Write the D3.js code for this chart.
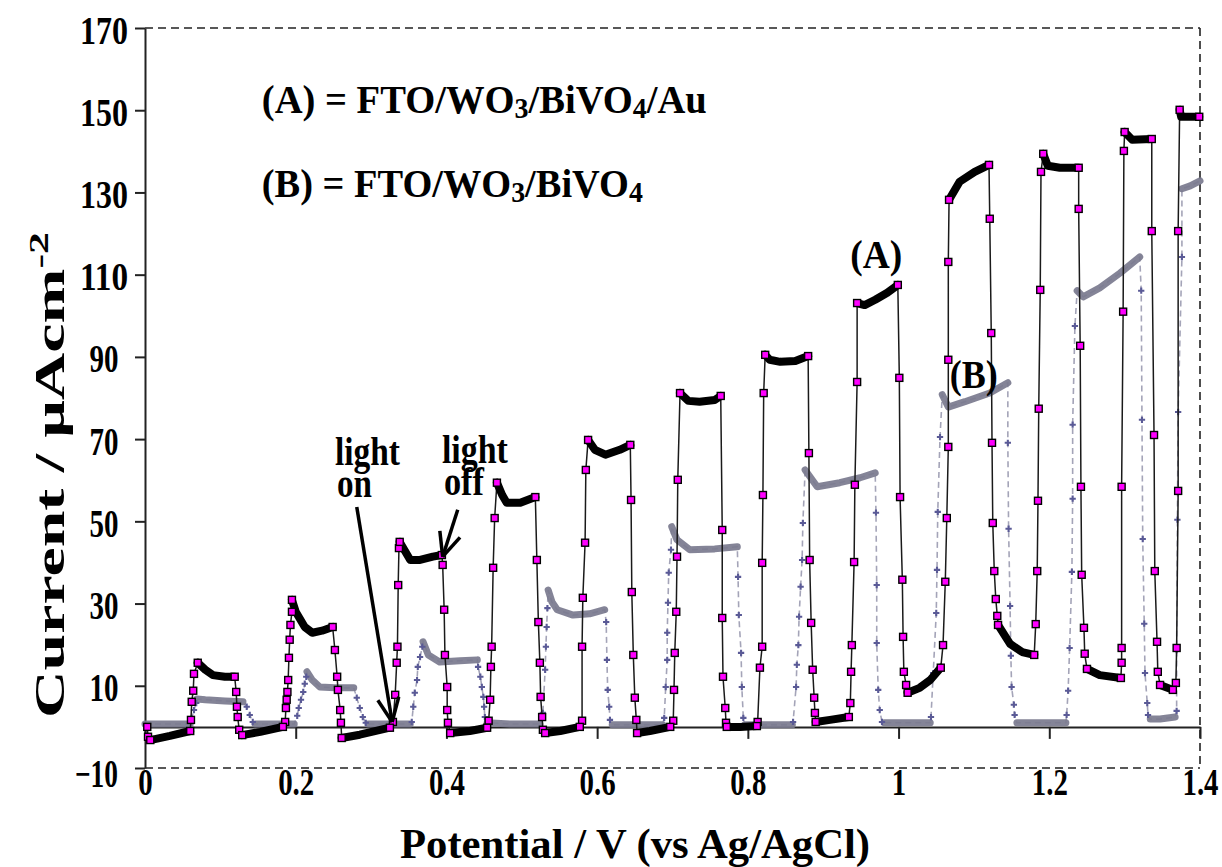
<!DOCTYPE html>
<html><head><meta charset="utf-8">
<script src="https://cdn.jsdelivr.net/npm/d3@7"></script>
<style>body{margin:0;background:#fff}svg{display:block}text{font-family:"Liberation Serif","Times New Roman",serif;font-weight:bold;fill:#000}</style>
</head><body>
<svg id="chart" width="1222" height="867"></svg>
<script>
// ---------- data ----------
const xDomain = [0, 1.4];
const yDomain = [-10, 170];
const xTicks = [0, 0.2, 0.4, 0.6, 0.8, 1, 1.2, 1.4];
const yTicks = [-10, 10, 30, 50, 70, 90, 110, 130, 150, 170];
const xTitle = "Potential / V (vs Ag/AgCl)";
const yTitle = "Current / \u03bcAcm";
const yTitleSup = "-2";
const legendA = ["(A) = FTO/WO", "3", "/BiVO", "4", "/Au"];
const legendB = ["(B) = FTO/WO", "3", "/BiVO", "4"];
// [potential V, current uA/cm2, dense sampling (plateau) flag]
const seriesA = [
 [0.003,0.0,0],[0.004,-2.4,0],
 [0.007,-3.2,1],[0.033,-2.2,1],[0.060,-1.0,1],
 [0.061,1.7,0],[0.062,6.1,0],[0.064,8.8,0],[0.065,12.9,0],
 [0.070,15.6,1],[0.080,13.9,1],[0.090,12.6,1],[0.106,12.2,1],[0.119,12.2,1],
 [0.121,8.5,0],[0.122,4.9,0],[0.123,2.4,0],[0.125,-0.7,0],
 [0.129,-2.0,1],[0.153,-1.2,1],[0.183,0.0,1],
 [0.186,1.2,0],[0.187,4.6,0],[0.188,6.6,0],[0.189,8.5,0],[0.190,11.4,0],[0.191,16.8,0],[0.192,21.2,0],[0.193,24.8,0],[0.195,28.0,0],
 [0.195,30.9,1],[0.200,28.0,1],[0.212,24.3,1],[0.222,22.9,1],[0.235,23.4,1],[0.249,24.3,1],
 [0.252,18.7,0],[0.255,12.2,0],[0.256,9.0,0],[0.259,4.1,0],[0.260,1.0,0],
 [0.261,-2.7,1],[0.285,-1.9,1],[0.325,-0.2,1],
 [0.329,1.2,0],[0.332,7.8,0],[0.334,15.6,0],[0.335,19.5,0],[0.336,34.5,0],[0.337,43.5,0],
 [0.338,45.0,1],[0.344,43.1,1],[0.352,40.6,1],[0.365,40.6,1],[0.382,41.4,1],[0.394,41.8,1],
 [0.395,39.4,0],[0.397,28.5,0],[0.398,17.5,0],[0.401,9.7,0],[0.401,4.1,0],[0.402,1.0,0],
 [0.405,-1.5,1],[0.431,-1.0,1],[0.454,-0.2,1],
 [0.456,1.5,0],[0.458,6.6,0],[0.459,14.6,0],[0.460,19.5,0],[0.462,38.7,0],[0.464,50.8,0],
 [0.467,59.4,1],[0.474,56.4,1],[0.480,54.5,1],[0.498,54.5,1],[0.518,55.9,1],
 [0.520,40.6,0],[0.522,25.5,0],[0.524,15.6,0],[0.525,7.3,0],[0.527,2.4,0],[0.528,-0.7,0],
 [0.531,-1.5,1],[0.551,-1.0,1],[0.577,0.0,1],
 [0.580,1.5,0],[0.580,19.5,0],[0.581,31.4,0],[0.584,44.8,0],[0.585,62.5,0],
 [0.588,69.8,1],[0.597,67.4,1],[0.611,66.2,1],[0.630,67.4,1],[0.644,68.6,1],
 [0.645,55.2,0],[0.646,32.8,0],[0.648,17.5,0],[0.650,7.1,0],[0.652,1.7,0],
 [0.653,-1.5,1],[0.670,-1.0,1],[0.697,0.0,1],
 [0.701,1.5,0],[0.702,9.0,0],[0.703,18.0,0],[0.705,28.0,0],[0.706,41.4,0],[0.707,60.1,0],
 [0.710,81.2,1],[0.721,79.3,1],[0.736,79.1,1],[0.756,79.5,1],[0.764,80.5,1],
 [0.766,47.9,0],[0.766,26.5,0],[0.767,12.2,0],[0.770,4.6,0],[0.771,1.0,0],
 [0.772,0.0,1],[0.790,0.0,1],[0.812,0.2,1],
 [0.813,1.2,0],[0.816,14.4,0],[0.819,19.5,0],[0.819,39.9,0],[0.820,56.4,0],[0.821,81.2,0],
 [0.823,90.5,1],[0.829,89.3,1],[0.843,88.8,1],[0.863,89.0,1],[0.880,90.2,1],
 [0.881,66.6,0],[0.882,40.6,0],[0.884,25.3,0],[0.886,13.9,0],[0.888,7.1,0],[0.889,3.4,0],
 [0.890,1.2,1],[0.909,1.7,1],[0.934,2.4,1],
 [0.936,5.8,0],[0.937,13.4,0],[0.938,19.9,0],[0.941,40.1,0],[0.942,58.9,0],[0.945,83.9,0],
 [0.945,103.1,1],[0.955,102.6,1],[0.969,103.9,1],[0.985,105.6,1],[0.999,107.5,1],
 [1.001,84.9,0],[1.002,55.9,0],[1.005,35.8,0],[1.006,21.9,0],[1.007,13.4,0],[1.010,10.2,0],
 [1.012,8.3,1],[1.028,9.5,1],[1.042,11.4,1],[1.056,14.4,1],
 [1.059,19.9,0],[1.062,35.3,0],[1.064,50.8,0],[1.066,68.1,0],[1.066,89.3,0],[1.066,113.1,0],
 [1.067,128.2,1],[1.081,132.6,1],[1.101,135.0,1],[1.120,136.7,1],
 [1.121,123.6,0],[1.123,95.8,0],[1.124,69.1,0],[1.125,49.6,0],[1.127,37.9,0],[1.129,31.1,0],[1.131,27.0,0],
 [1.132,24.8,1],[1.148,20.2,1],[1.164,18.2,1],[1.180,17.5,1],
 [1.182,25.0,0],[1.184,37.9,0],[1.185,55.0,0],[1.186,77.4,0],[1.188,106.3,0],[1.189,135.0,0],
 [1.192,139.4,1],[1.198,136.5,1],[1.214,136.0,1],[1.239,136.0,1],
 [1.239,126.0,0],[1.241,92.7,0],[1.242,58.4,0],[1.243,37.0,0],[1.246,24.1,0],[1.247,17.8,0],
 [1.250,14.1,1],[1.267,12.6,1],[1.295,11.9,1],
 [1.296,15.6,0],[1.296,19.2,0],[1.296,58.4,0],[1.298,101.0,0],[1.299,140.1,0],
 [1.300,144.7,1],[1.310,142.8,1],[1.336,143.0,1],
 [1.336,120.6,0],[1.339,71.0,0],[1.340,37.9,0],[1.343,20.7,0],[1.344,13.4,0],
 [1.347,10.2,1],[1.364,9.0,1],
 [1.368,10.7,0],[1.369,19.2,0],[1.371,57.4,0],[1.371,120.6,0],
 [1.373,150.1,1],[1.375,148.4,1],[1.399,148.4,1]
];
const seriesB = [
 [0.000,0.7,1],[0.033,0.7,1],[0.060,0.7,1],
 [0.062,2.2,0],[0.065,4.1,0],[0.068,5.8,0],
 [0.069,6.8,1],[0.080,6.6,1],[0.106,6.3,1],[0.130,6.1,1],
 [0.135,4.9,0],[0.139,2.9,0],[0.143,1.2,0],
 [0.146,0.7,1],[0.173,0.7,1],[0.198,0.7,1],
 [0.202,2.7,0],[0.204,4.6,0],[0.207,6.6,0],[0.210,8.5,0],[0.212,10.5,0],[0.214,12.2,0],
 [0.215,13.4,1],[0.222,11.4,1],[0.232,9.7,1],[0.252,9.5,1],[0.277,9.5,1],
 [0.281,7.1,0],[0.285,4.6,0],[0.289,2.4,0],[0.293,1.0,0],
 [0.296,0.7,1],[0.325,0.7,1],[0.352,0.7,1],
 [0.354,1.2,0],[0.356,4.9,0],[0.358,8.3,0],[0.361,11.4,0],[0.362,14.6,0],[0.365,17.0,0],[0.368,19.5,0],
 [0.369,20.7,1],[0.376,17.5,1],[0.391,15.8,1],[0.418,16.1,1],[0.441,16.3,1],
 [0.442,14.6,0],[0.445,12.2,0],[0.447,9.7,0],[0.449,7.3,0],[0.450,4.9,0],[0.451,2.4,0],
 [0.454,1.0,1],[0.484,0.7,1],[0.524,0.7,1],
 [0.528,3.4,0],[0.531,13.9,0],[0.532,19.5,0],[0.533,24.3,0],[0.534,28.9,0],
 [0.535,33.3,1],[0.540,30.4,1],[0.547,28.5,1],[0.568,27.2,1],[0.590,27.5,1],[0.610,28.5,1],
 [0.612,25.5,0],[0.613,16.3,0],[0.614,9.0,0],[0.616,4.9,0],[0.617,1.7,0],
 [0.620,0.5,1],[0.657,0.5,1],[0.687,0.5,1],
 [0.689,2.2,0],[0.691,9.7,0],[0.693,16.3,0],[0.693,22.9,0],[0.694,30.2,0],[0.695,37.5,0],[0.698,43.1,0],
 [0.699,48.7,1],[0.706,45.5,1],[0.723,43.1,1],[0.756,43.3,1],[0.786,43.8,1],
 [0.787,36.5,0],[0.788,27.2,0],[0.791,18.0,0],[0.792,9.7,0],[0.794,2.2,0],
 [0.796,0.5,1],[0.829,0.5,1],[0.859,0.5,1],
 [0.860,1.2,0],[0.864,9.7,0],[0.865,15.1,0],[0.867,19.9,0],[0.868,26.8,0],[0.870,34.1,0],[0.872,40.6,0],[0.873,49.6,0],
 [0.876,62.5,1],[0.892,58.4,1],[0.922,59.4,1],[0.949,60.6,1],[0.969,61.8,1],
 [0.970,52.1,0],[0.971,34.5,0],[0.971,20.4,0],[0.973,9.0,0],[0.975,4.1,0],[0.978,1.2,0],
 [0.981,1.0,1],[1.008,1.0,1],[1.042,1.0,1],
 [1.043,2.4,0],[1.046,13.1,0],[1.050,27.7,0],[1.051,38.2,0],[1.052,52.3,0],[1.055,70.5,0],
 [1.058,80.8,1],[1.066,77.8,1],[1.088,79.1,1],[1.121,81.2,1],[1.145,83.7,1],
 [1.145,69.1,0],[1.146,48.2,0],[1.148,29.4,0],[1.149,17.3,0],[1.150,9.7,0],[1.153,5.4,0],[1.154,2.9,0],
 [1.157,1.0,1],[1.188,1.0,1],[1.222,1.0,1],
 [1.223,2.9,0],[1.225,8.8,0],[1.227,19.2,0],[1.230,37.7,0],[1.231,55.5,0],[1.231,73.5,0],[1.234,97.5,0],
 [1.237,106.1,1],[1.245,104.6,1],[1.267,106.8,1],[1.294,110.4,1],[1.320,114.3,1],
 [1.322,106.1,0],[1.323,74.7,0],[1.324,45.7,0],[1.326,25.1,0],[1.327,13.1,0],[1.330,5.8,0],[1.331,2.9,0],
 [1.334,1.9,1],[1.347,1.9,1],[1.367,2.4,1],
 [1.369,3.9,0],[1.369,18.7,0],[1.370,50.4,0],[1.371,76.6,0],[1.376,114.3,0],
 [1.376,130.9,1],[1.387,131.6,1],[1.400,132.8,1]
];
// annotations (data coordinates)
const seriesLabels = [{text:"(A)", v:0.936, i:111.7, w:52}, {text:"(B)", v:1.068, i:82.5, w:48}];
const lightNotes = [
 {lines:["light","on"], v:0.252, i:63.7, w:[65,35], from:[0.281,53.5], to:[0.328,1.2]},
 {lines:["light","off"], v:0.394, i:64.2, w:[66,40], from:[0.415,52.8], to:[0.395,41.4]}
];

// ---------- chart ----------
const svg = d3.select("#chart");
const x = d3.scaleLinear(xDomain, [145, 1200]);
const y = d3.scaleLinear(yDomain, [768, 28]);
const line = d3.line().x(d => x(d[0])).y(d => y(d[1]));

function denseRuns(data){
  const out = []; let cur = null;
  data.forEach(p => { if (p[2]) { if (!cur) { cur = []; out.push(cur); } cur.push(p); } else cur = null; });
  return out;
}
function squeeze(sel, w){ sel.attr("textLength", w).attr("lengthAdjust", "spacingAndGlyphs"); }

// frame (dashed top/right/bottom)
const frame = svg.append("g").attr("stroke", "#222").attr("stroke-width", 1.6).attr("stroke-dasharray", "8,5").attr("fill", "none");
frame.append("line").attr("x1", x(0)).attr("x2", x(1.4)).attr("y1", y(170)).attr("y2", y(170));
frame.append("line").attr("x1", x(1.4)).attr("x2", x(1.4)).attr("y1", y(170)).attr("y2", y(-10));
frame.append("line").attr("x1", x(0)).attr("x2", x(1.4)).attr("y1", y(-10)).attr("y2", y(-10));

// y axis
const yAx = svg.append("g").attr("transform", `translate(${x(0)},0)`)
  .call(d3.axisLeft(y).tickValues(yTicks).tickSize(10).tickSizeOuter(0).tickFormat(d3.format("d")));
yAx.select(".domain").attr("stroke", "#222").attr("stroke-width", 2);
yAx.selectAll(".tick line").attr("stroke", "#222").attr("stroke-width", 2);
yAx.selectAll(".tick text").attr("font-size", 39).attr("font-family", null).attr("dy", 0)
  .attr("y", d => d < 0 ? 18 : 15)
  .attr("text-anchor", d => d < 0 ? "end" : "middle")
  .attr("x", d => d < 0 ? -27 : -41)
  .each(function(d){ const w = d < 0 ? 43 : (String(d).length === 3 ? 48 : 29); squeeze(d3.select(this), w); });

// x axis at zero current
const xAx = svg.append("g").attr("transform", `translate(0,${y(0)})`)
  .call(d3.axisBottom(x).tickValues(xTicks).tickSize(12).tickSizeOuter(0).tickFormat(d3.format("~g")));
xAx.select(".domain").attr("stroke", "#222").attr("stroke-width", 2);
xAx.selectAll(".tick line").attr("stroke", "#222").attr("stroke-width", 2);
xAx.selectAll(".tick text").attr("font-size", 37).attr("font-family", null).attr("dy", 0).attr("y", 68)
  .each(function(d){ const n = this.getComputedTextLength(); squeeze(d3.select(this), n * 0.78); });

// series B (grey, dashed)
const gB = svg.append("g");
gB.append("path").datum(seriesB).attr("d", line).attr("fill", "none")
  .attr("stroke", "#a4a4b8").attr("stroke-width", 1.6).attr("stroke-dasharray", "6,4");
gB.selectAll("path.band").data(denseRuns(seriesB)).join("path").attr("class", "band")
  .attr("d", line).attr("fill", "none").attr("stroke", "#7a7a8e").attr("stroke-width", 7)
  .attr("stroke-linecap", "round").attr("stroke-linejoin", "round").attr("opacity", 0.92);
gB.selectAll("path.mk").data(seriesB.filter(p => !p[2])).join("path").attr("class", "mk")
  .attr("d", d3.symbol(d3.symbolCross, 22)).attr("transform", d => `translate(${x(d[0])},${y(d[1])})`)
  .attr("fill", "#5a5a96");

// series A (black with magenta squares)
const gA = svg.append("g");
gA.append("path").datum(seriesA).attr("d", line).attr("fill", "none")
  .attr("stroke", "#1a1a1a").attr("stroke-width", 1.5);
const runsA = denseRuns(seriesA);
gA.selectAll("path.band").data(runsA).join("path").attr("class", "band")
  .attr("d", line).attr("fill", "none").attr("stroke", "#000").attr("stroke-width", 8)
  .attr("stroke-linecap", "round").attr("stroke-linejoin", "round");
const markA = seriesA.filter(p => !p[2]).concat(runsA.flatMap(r => [r[0], r[r.length - 1]]));
gA.selectAll("rect.mk").data(markA).join("rect").attr("class", "mk")
  .attr("x", d => x(d[0]) - 3.5).attr("y", d => y(d[1]) - 3.5).attr("width", 7).attr("height", 7)
  .attr("fill", "#ff00ff").attr("stroke", "#000").attr("stroke-width", 1.4);

// legend text
function legend(parts, v, i, w){
  const t = svg.append("text").attr("x", x(v)).attr("y", y(i)).attr("font-size", 40);
  parts.forEach((p, k) => {
    const ts = t.append("tspan").text(p);
    if (k % 2 === 1) ts.attr("font-size", 29).attr("dy", 5);
    else if (k > 0) ts.attr("dy", -5);
  });
  squeeze(t, w);
}
legend(legendA, 0.155, 149.4, 445);
legend(legendB, 0.155, 128.9, 381);

// series labels
seriesLabels.forEach(s => {
  svg.append("text").attr("x", x(s.v)).attr("y", y(s.i)).attr("font-size", 40).text(s.text).call(squeeze, s.w);
});

// light on / off annotations
lightNotes.forEach(n => {
  n.lines.forEach((l, k) => {
    svg.append("text").attr("x", x(n.v) + (k ? 2 : 0)).attr("y", y(n.i) + k * 32).attr("font-size", 39).text(l).call(squeeze, n.w[k]);
  });
  const x1 = x(n.from[0]), y1 = y(n.from[1]), x2 = x(n.to[0]), y2 = y(n.to[1]);
  svg.append("line").attr("x1", x1).attr("y1", y1).attr("x2", x2).attr("y2", y2).attr("stroke", "#000").attr("stroke-width", 3.5);
  const ang = Math.atan2(y2 - y1, x2 - x1), L = 26, spread = 0.42;
  [-spread, spread].forEach(s => {
    svg.append("line").attr("x1", x2).attr("y1", y2)
      .attr("x2", x2 - L * Math.cos(ang + s)).attr("y2", y2 - L * Math.sin(ang + s))
      .attr("stroke", "#000").attr("stroke-width", 3.5);
  });
});

// axis titles
svg.append("text").attr("x", 635).attr("y", 858).attr("text-anchor", "middle").attr("font-size", 42)
  .text(xTitle).call(squeeze, 470);
const yt = svg.append("text").attr("transform", "translate(64,475) rotate(-90)").attr("text-anchor", "middle").attr("font-size", 42);
yt.append("tspan").text(yTitle);
yt.append("tspan").text(yTitleSup).attr("font-size", 28).attr("dy", -16);
squeeze(yt, 486);
</script>
</body></html>
